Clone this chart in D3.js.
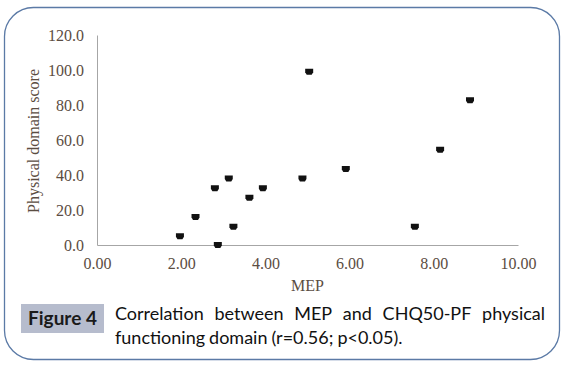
<!DOCTYPE html>
<html>
<head>
<meta charset="utf-8">
<script src="https://cdn.jsdelivr.net/npm/d3@7"></script>
<style>
  body { margin: 0; background: #fff; }
</style>
</head>
<body>
<div id="container"></div>
<script>
/** DATA */
const mep = [1.97, 2.34, 2.80, 2.87, 3.13, 3.24, 3.62, 3.94, 4.88, 5.04, 5.91, 7.55, 8.15, 8.86];
const score = [5, 16, 32.5, 0, 38, 10.5, 27, 32.5, 38, 99, 43.5, 10.5, 54.5, 82.7];
const xTicks = [0, 2, 4, 6, 8, 10];
const yTicks = [0, 20, 40, 60, 80, 100, 120];
const captionLines = [
  "Correlation between MEP and CHQ50-PF physical",
  "functioning domain (r=0.56; p<0.05)."
];

/** CONSTANTS */
const width = 565, height = 365;
const plot = { left: 97, right: 518, top: 35, bottom: 245 };

const svg = d3.select("#container")
  .append("svg")
  .attr("width", width)
  .attr("height", height);

// rounded frame
svg.append("rect")
  .attr("x", 4.5).attr("y", 7.5)
  .attr("width", 555).attr("height", 352)
  .attr("rx", 29).attr("ry", 29)
  .attr("fill", "none")
  .attr("stroke", "#5b7aa6")
  .attr("stroke-width", 1.3);

const x = d3.scaleLinear().domain([0, 10]).range([plot.left, plot.right]);
const y = d3.scaleLinear().domain([0, 120]).range([plot.bottom, plot.top]);

const labelColor = "#5b4d42";
const serif = "'Liberation Serif', 'Times New Roman', serif";

// axes
const xAxis = svg.append("g")
  .attr("transform", `translate(0,${plot.bottom})`)
  .call(d3.axisBottom(x).tickValues(xTicks).tickSize(0).tickPadding(13).tickFormat(d3.format(".2f")));
const yAxis = svg.append("g")
  .attr("transform", `translate(${plot.left},0)`)
  .call(d3.axisLeft(y).tickValues(yTicks).tickSize(0).tickPadding(13).tickFormat(d3.format(".1f")));

[xAxis, yAxis].forEach(g => {
  g.select(".domain").attr("stroke", "#a6a6a6").attr("stroke-width", 1);
  g.selectAll("text")
    .attr("fill", labelColor)
    .style("font-family", serif)
    .style("font-size", "16px");
});

// axis titles
svg.append("text")
  .attr("x", (plot.left + plot.right) / 2)
  .attr("y", 291)
  .attr("text-anchor", "middle")
  .attr("fill", labelColor)
  .style("font-family", serif)
  .style("font-size", "16px")
  .text("MEP");

svg.append("text")
  .attr("transform", `translate(39,${(plot.top + plot.bottom) / 2 + 1}) rotate(-90)`)
  .attr("text-anchor", "middle")
  .attr("fill", labelColor)
  .style("font-family", serif)
  .style("font-size", "16px")
  .text("Physical domain score");

// markers
const marker = "M-4,-3 H4 V0.5 L2.5,3 H-2.5 L-4,0.5 Z";
svg.append("g")
  .selectAll("path")
  .data(mep.map((m, i) => ({ m, s: score[i] })))
  .join("path")
  .attr("d", marker)
  .attr("transform", d => `translate(${x(d.m)},${y(d.s)})`)
  .attr("fill", "#111");

// caption
svg.append("rect")
  .attr("x", 21).attr("y", 304)
  .attr("width", 83).attr("height", 29)
  .attr("fill", "#b6bccd");

const sans = "Lato, 'Open Sans', sans-serif";
svg.append("text")
  .attr("x", 62.5).attr("y", 325)
  .attr("text-anchor", "middle")
  .attr("fill", "#1a1a1a")
  .style("font-family", sans)
  .style("font-size", "19px")
  .style("font-weight", "bold")
  .text("Figure 4");

// first line justified between 115 and 545, second left aligned
const capLeft = 115, capRight = 545;
captionLines.forEach((line, li) => {
  const words = line.split(" ");
  const yy = 320 + li * 24;
  const g = svg.append("g");
  const nodes = words.map(w => g.append("text")
    .attr("y", yy)
    .attr("fill", "#111")
    .style("font-family", sans)
    .style("font-size", "18px")
    .text(w));
  const widths = nodes.map(n => n.node().getComputedTextLength());
  const total = d3.sum(widths);
  const gap = li === 0 ? (capRight - capLeft - total) / (words.length - 1) : 4;
  let cx = capLeft;
  nodes.forEach((n, i) => {
    n.attr("x", cx);
    cx += widths[i] + gap;
  });
});
</script>
</body>
</html>
